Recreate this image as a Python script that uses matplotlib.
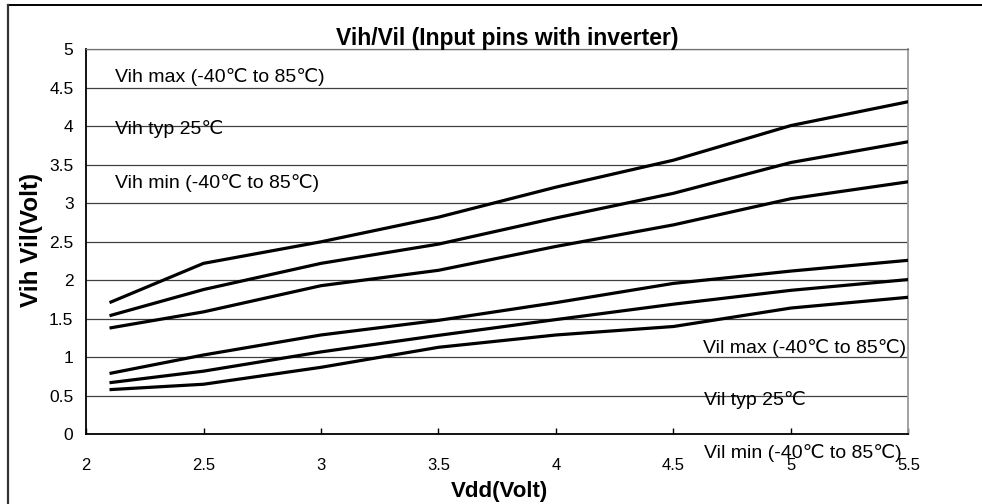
import matplotlib
matplotlib.use("Agg")
import matplotlib.pyplot as plt
from matplotlib.lines import Line2D
from matplotlib import font_manager

vdd = [2.1, 2.5, 3.0, 3.5, 4.0, 4.5, 5.0, 5.5]
vih_max = [1.71, 2.22, 2.50, 2.82, 3.21, 3.56, 4.01, 4.32]
vih_typ = [1.54, 1.88, 2.22, 2.47, 2.81, 3.13, 3.53, 3.80]
vih_min = [1.38, 1.59, 1.93, 2.13, 2.44, 2.72, 3.06, 3.28]
vil_max = [0.79, 1.03, 1.29, 1.48, 1.71, 1.96, 2.12, 2.26]
vil_typ = [0.67, 0.82, 1.07, 1.285, 1.49, 1.69, 1.87, 2.01]
vil_min = [0.58, 0.65, 0.87, 1.13, 1.29, 1.40, 1.64, 1.78]

xticks = [2, 2.5, 3, 3.5, 4, 4.5, 5, 5.5]
xticklabels = ["2", "2.5", "3", "3.5", "4", "4.5", "5", "5.5"]
yticks = [0, 0.5, 1, 1.5, 2, 2.5, 3, 3.5, 4, 4.5, 5]
yticklabels = ["0", "0.5", "1", "1.5", "2", "2.5", "3", "3.5", "4", "4.5", "5"]

title = "Vih/Vil (Input pins with inverter)"
xlabel = "Vdd(Volt)"
ylabel = "Vih Vil(Volt)"

names = {f.name for f in font_manager.fontManager.ttflist}
narrow = "Liberation Sans Narrow" if "Liberation Sans Narrow" in names else "Liberation Sans"
fam = ["Liberation Sans", "DejaVu Sans"]
nfam = [narrow, "DejaVu Sans"]

W, H = 982, 504
fig = plt.figure(figsize=(W / 100, H / 100), dpi=100)
ax = fig.add_axes([86 / W, 1 - 434.3 / H, (908.5 - 86) / W, (434.3 - 49.3) / H])

for s in [vih_max, vih_typ, vih_min, vil_max, vil_typ, vil_min]:
    ax.plot(vdd, s, color="black", lw=2.3, solid_capstyle="butt", zorder=3)

ax.set_xlim(2, 5.5)
ax.set_ylim(0, 5)
ax.set_yticks(yticks)
ax.set_yticklabels(yticklabels, family=nfam, fontsize=12.5)
ax.set_xticks(xticks)
ax.set_xticklabels(xticklabels, family=nfam, fontsize=12)
ax.tick_params(axis="y", length=0, pad=9)
ax.tick_params(axis="x", direction="in", length=4, width=1, pad=17, colors="black")
ax.grid(axis="y", color="#404040", lw=0.9)
ax.grid(axis="x", visible=False)
ax.set_axisbelow(True)
for side in ["left", "bottom"]:
    ax.spines[side].set_color("black")
    ax.spines[side].set_linewidth(1.3)
ax.spines["right"].set_color("#9a9a9a")
ax.spines["right"].set_linewidth(1.3)
ax.spines["top"].set_color("#707070")
ax.spines["top"].set_linewidth(0.9)

tk = dict(fontsize=14, family=fam, color="black")
ax.text(2.125, 4.64, "Vih max (-40℃ to 85℃)", va="center", ha="left", **tk)
ax.text(2.125, 3.96, "Vih typ 25℃", va="center", ha="left", **tk)
ax.text(2.125, 3.27, "Vih min (-40℃ to 85℃)", va="center", ha="left", **tk)
ax.text(5.49, 1.12, "Vil max (-40℃ to 85℃)", va="center", ha="right", **tk)
ax.text(4.63, 0.445, "Vil typ 25℃", va="center", ha="left", **tk)
ax.text(4.63, -0.245, "Vil min (-40℃ to 85℃)", va="center", ha="left", clip_on=False, **tk)

fig.text(507 / W, 1 - 39 / H, title, ha="center", va="center", fontsize=16.5,
         family=nfam, fontweight="bold")
fig.text(499 / W, 1 - 491 / H, xlabel, ha="center", va="center", fontsize=16,
         family=fam, fontweight="bold")
fig.text(32 / W, 1 - 240 / H, ylabel, ha="center", va="center", fontsize=17.5,
         family=fam, fontweight="bold", rotation=90)

fig.add_artist(Line2D([7.5 / W, 1], [1 - 4.5 / H, 1 - 4.5 / H], color="black", lw=1.4,
                      transform=fig.transFigure))
fig.add_artist(Line2D([7.5 / W, 7.5 / W], [0, 1 - 4.5 / H], color="#333333", lw=1.6,
                      transform=fig.transFigure))

fig.savefig("out.png", dpi=100)
